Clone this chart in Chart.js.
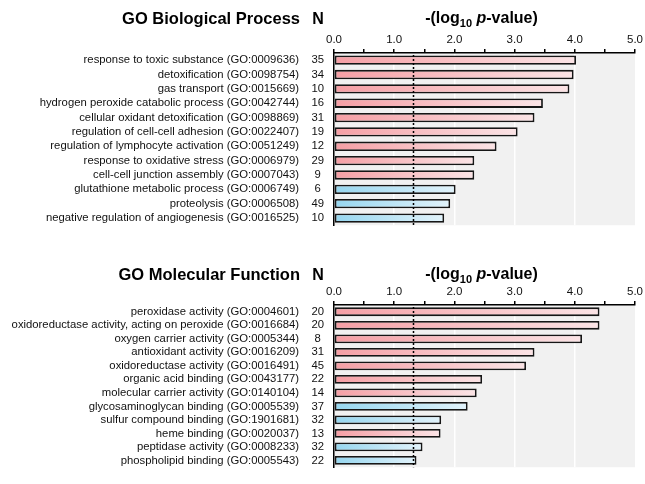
<!DOCTYPE html>
<html>
<head>
<meta charset="utf-8">
<script src="https://cdn.jsdelivr.net/npm/chart.js@4.4.1/dist/chart.umd.min.js"></script>
<style>
  body { margin: 0; background: #fff; }
  #wrap { position: relative; width: 645px; height: 484px; }
  canvas { position: absolute; left: 0; }
</style>
</head>
<body>
<div id="wrap">
  <canvas id="bp" width="645" height="242" style="top:0px"></canvas>
  <canvas id="mf" width="645" height="234" style="top:250px"></canvas>
</div>
<script>
// GO Biological Process
const bpTerms = [
  'response to toxic substance (GO:0009636)',
  'detoxification (GO:0098754)',
  'gas transport (GO:0015669)',
  'hydrogen peroxide catabolic process (GO:0042744)',
  'cellular oxidant detoxification (GO:0098869)',
  'regulation of cell-cell adhesion (GO:0022407)',
  'regulation of lymphocyte activation (GO:0051249)',
  'response to oxidative stress (GO:0006979)',
  'cell-cell junction assembly (GO:0007043)',
  'glutathione metabolic process (GO:0006749)',
  'proteolysis (GO:0006508)',
  'negative regulation of angiogenesis (GO:0016525)'
];
const bpN = [35, 34, 10, 16, 31, 19, 12, 29, 9, 6, 49, 10];
const bpScore = [4.02, 3.98, 3.91, 3.47, 3.33, 3.05, 2.70, 2.33, 2.33, 2.02, 1.93, 1.83];
const bpGroup = ['red', 'red', 'red', 'red', 'red', 'red', 'red', 'red', 'red', 'blue', 'blue', 'blue'];

// GO Molecular Function
const mfTerms = [
  'peroxidase activity (GO:0004601)',
  'oxidoreductase activity, acting on peroxide (GO:0016684)',
  'oxygen carrier activity (GO:0005344)',
  'antioxidant activity (GO:0016209)',
  'oxidoreductase activity (GO:0016491)',
  'organic acid binding (GO:0043177)',
  'molecular carrier activity (GO:0140104)',
  'glycosaminoglycan binding (GO:0005539)',
  'sulfur compound binding (GO:1901681)',
  'heme binding (GO:0020037)',
  'peptidase activity (GO:0008233)',
  'phospholipid binding (GO:0005543)'
];
const mfN = [20, 20, 8, 31, 45, 22, 14, 37, 32, 13, 32, 22];
const mfScore = [4.41, 4.41, 4.12, 3.33, 3.19, 2.46, 2.37, 2.22, 1.78, 1.77, 1.47, 1.37];
const mfGroup = ['red', 'red', 'red', 'red', 'red', 'red', 'red', 'blue', 'blue', 'red', 'blue', 'blue'];

const xTickLabels = ['0.0', '1.0', '2.0', '3.0', '4.0', '5.0'];
const threshold = 1.32; // dotted line, p = 0.05

const FONT = '"Liberation Sans", Arial, Helvetica, sans-serif';
Chart.defaults.font.family = FONT;
Chart.defaults.color = '#111';

const colors = {
  red: ['rgb(245,158,164)', 'rgb(251,228,230)'],
  blue: ['rgb(150,214,239)', 'rgb(226,243,251)']
};

// gray plot background
const backgroundPlugin = {
  id: 'plotBg',
  beforeDraw(chart) {
    const { ctx, chartArea: a } = chart;
    ctx.save();
    ctx.fillStyle = '#f1f1f1';
    ctx.fillRect(a.left, a.top, a.right - a.left, a.bottom - a.top);
    ctx.restore();
  }
};

// dotted significance line
const thresholdPlugin = {
  id: 'threshold',
  afterDatasetsDraw(chart) {
    const { ctx, chartArea: a, scales } = chart;
    const x = Math.round(scales.x.getPixelForValue(threshold)) + 0.5;
    ctx.save();
    ctx.strokeStyle = '#000';
    ctx.lineWidth = 1.5;
    ctx.setLineDash([2, 2]);
    ctx.beginPath();
    ctx.moveTo(x, a.top + 2);
    ctx.lineTo(x, a.bottom);
    ctx.stroke();
    ctx.restore();
  }
};

// section title, N header and axis title
const headerPlugin = {
  id: 'header',
  afterDraw(chart, args, opts) {
    const { ctx, chartArea: a } = chart;
    const y = opts.y;
    ctx.save();
    ctx.fillStyle = '#000';
    ctx.textBaseline = 'alphabetic';
    ctx.font = 'bold 16.5px ' + FONT;
    ctx.textAlign = 'right';
    ctx.fillText(opts.title, 300, y);
    ctx.textAlign = 'center';
    ctx.font = 'bold 16px ' + FONT;
    ctx.fillText('N', 318, y);

    const parts = [
      { t: '-(log', f: 'bold 16px ' + FONT, dy: 0 },
      { t: '10', f: 'bold 11px ' + FONT, dy: 4 },
      { t: ' ', f: 'bold 16px ' + FONT, dy: 0 },
      { t: 'p', f: 'italic bold 16px ' + FONT, dy: 0 },
      { t: '-value)', f: 'bold 16px ' + FONT, dy: 0 }
    ];
    let total = 0;
    parts.forEach(p => { ctx.font = p.f; p.w = ctx.measureText(p.t).width; total += p.w; });
    let x = (a.left + a.right) / 2 - 3 - total / 2;
    ctx.textAlign = 'left';
    parts.forEach(p => {
      ctx.font = p.f;
      ctx.fillText(p.t, x, y - 1.5 + p.dy);
      x += p.w;
    });
    ctx.restore();
  }
};

function makeChart(id, terms, nValues, scores, groups, title, titleY, topH, bottomPad) {
  return new Chart(document.getElementById(id), {
    type: 'bar',
    data: {
      labels: terms,
      datasets: [{
        data: scores,
        backgroundColor: (c) => {
          const pair = colors[groups[c.dataIndex]] || colors.red;
          const chart = c.chart;
          const a = chart.chartArea;
          if (!a || !chart.scales.x || c.raw == null) return pair[0];
          const x1 = chart.scales.x.getPixelForValue(c.raw);
          const g = chart.ctx.createLinearGradient(a.left, 0, x1, 0);
          g.addColorStop(0, pair[0]);
          g.addColorStop(1, pair[1]);
          return g;
        },
        borderColor: '#161616',
        borderWidth: 1.8,
        borderSkipped: false,
        barPercentage: 0.65,
        categoryPercentage: 1
      }]
    },
    options: {
      indexAxis: 'y',
      responsive: false,
      animation: false,
      layout: { padding: { left: 0, right: 9, top: 0, bottom: bottomPad } },
      scales: {
        x: {
          position: 'top',
          min: 0,
          max: 5,
          afterFit: (s) => { s.height = topH; },
          ticks: {
            stepSize: 0.5,
            autoSkip: false,
            maxRotation: 0,
            padding: 2,
            font: { size: 11.5 },
            color: '#111',
            callback: (v) => Number.isInteger(v) ? xTickLabels[v] : ''
          },
          grid: {
            color: (c) => (c.tick && Number.isInteger(c.tick.value) && c.tick.value > 0 && c.tick.value < 5) ? '#ffffff' : 'rgba(0,0,0,0)',
            lineWidth: 1.5,
            tickColor: '#000',
            tickLength: 4,
            drawTicks: true
          },
          border: { display: true, color: '#000', width: 1.5 }
        },
        y: {
          weight: 1,
          afterFit: (s) => { s.width = 302; },
          ticks: { autoSkip: false, padding: 3, font: { size: 11.3 }, color: '#111' },
          grid: { display: false, drawTicks: false },
          border: { display: false }
        },
        n: {
          type: 'category',
          position: 'left',
          weight: 0,
          offset: true,
          labels: nValues.map(String),
          afterFit: (s) => { s.width = 32; },
          ticks: { autoSkip: false, padding: 10, crossAlign: 'center', font: { size: 11.3 }, color: '#111' },
          grid: { display: false, drawTicks: false },
          border: { display: true, color: '#000', width: 1.5 }
        }
      },
      plugins: {
        legend: { display: false },
        tooltip: { enabled: false },
        header: { title: title, y: titleY }
      }
    },
    plugins: [backgroundPlugin, thresholdPlugin, headerPlugin]
  });
}

makeChart('bp', bpTerms, bpN, bpScore, bpGroup, 'GO Biological Process', 24, 53, 14);
makeChart('mf', mfTerms, mfN, mfScore, mfGroup, 'GO Molecular Function', 30, 55, 2);
</script>
</body>
</html>
